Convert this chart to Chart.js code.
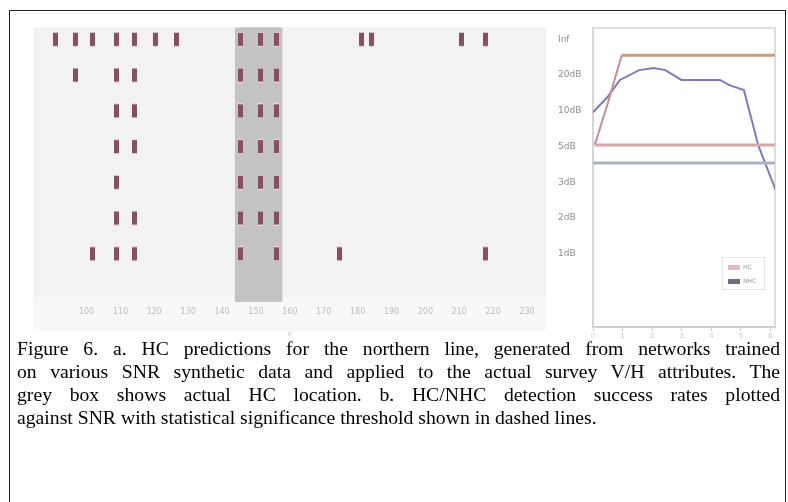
<!DOCTYPE html>
<html>
<head>
<meta charset="utf-8">
<script src="https://cdn.jsdelivr.net/npm/chart.js@4.4.0/dist/chart.umd.min.js"></script>
<style>
  html, body { margin: 0; padding: 0; background: #fff; }
  body { width: 788px; height: 502px; position: relative; overflow: hidden; }
  #frame { position: absolute; left: 9px; top: 10px; width: 777px; height: 500px;
           border: 1.5px solid #222; border-bottom: none; box-sizing: border-box; }
  #wrapA { position: absolute; left: 28px; top: 18px; width: 555px; height: 322px; }
  #wrapB { position: absolute; left: 575px; top: 18px; width: 208px; height: 325px; }
  #legend { position: absolute; left: 722px; top: 257px; width: 43px; height: 33px;
            background: #fff; border: 1px solid #e6e6e6; box-sizing: border-box;
            font: 6px "DejaVu Sans"; color: #999; }
  #legend .item { position: absolute; left: 5px; height: 8px; line-height: 8px; }
  #legend .sw { display: inline-block; width: 12px; height: 5px; vertical-align: middle; margin-right: 3px; }
  #caption { position: absolute; left: 17px; top: 337px; width: 763px;
             font-family: "Liberation Serif", serif; font-size: 19.7px; line-height: 23px; color: #000; }
  #caption .j { text-align: justify; text-align-last: justify; }
</style>
</head>
<body>
<div id="frame"></div>
<div id="wrapA"><canvas id="chart-a" width="555" height="322"></canvas></div>
<div id="wrapB"><canvas id="chart-b" width="208" height="325"></canvas></div>
<div id="legend">
  <div class="item" style="top:5px"><span class="sw" style="background:#e7b9c7"></span>HC</div>
  <div class="item" style="top:19px"><span class="sw" style="background:#786884"></span>NHC</div>
</div>
<div id="caption">
  <div class="j">Figure 6. a. HC predictions for the northern line, generated from networks trained</div>
  <div class="j">on various SNR synthetic data and applied to the actual survey V/H attributes. The</div>
  <div class="j">grey box shows actual HC location. b. HC/NHC detection success rates plotted</div>
  <div>against SNR with statistical significance threshold shown in dashed lines.</div>
</div>
<script>
/*********************** data for panel a (predictions) ***********************/

const rowLabels = ["Inf", "20dB", "10dB", "5dB", "3dB", "2dB", "1dB"];
const xTicks = [100, 110, 120, 130, 140, 150, 160, 170, 180, 190, 200, 210, 220, 230];
const hcBox = [143.8, 157.8]; // actual HC location (grey box)

// x positions of the HC predictions, one array per SNR row
const row1 = [90.9, 96.7, 101.9, 108.8, 114.3, 120.4, 126.6, 145.3, 151.4, 156.1, 181.2, 184.1, 210.7, 217.7];
const row2 = [96.7, 108.8, 114.3, 145.3, 151.4, 156.1];
const row3 = [108.8, 114.3, 145.3, 151.4, 156.1];
const row4 = [108.8, 114.3, 145.3, 151.4, 156.1];
const row5 = [108.8, 145.3, 151.4, 156.1];
const row6 = [108.8, 114.3, 145.3, 151.4, 156.1];
const row7 = [101.9, 108.8, 114.3, 145.3, 156.1, 174.8, 217.7];

/*********************** data for panel b (success rates) ***********************/

const hcSnr = [0.06, 0.49, 0.97, 6.15];
const hcRate = [67, 82, 100, 100];
const nhcSnr = [0, 0.49, 0.91, 1.56, 2.05, 2.44, 2.99, 4.29, 4.61, 5.1, 5.58, 6.17];
const nhcRate = [79, 84.6, 90.9, 94.5, 95.3, 94.5, 90.9, 90.9, 89, 87.2, 67, 50.4];
const hcThreshold = 67;
const nhcThreshold = 60.3;
const snrTicks = [0, 1, 2, 3, 4, 5, 6];

/*********************** panel a ***********************/

// tall thin marker used for every prediction
const mark = document.createElement("canvas");
mark.width = 5;
mark.height = 15;
const mctx = mark.getContext("2d");
mctx.fillStyle = "#f0d4dc";
mctx.fillRect(0, 0, 5, 15);
mctx.fillStyle = "#85505f";
mctx.fillRect(0, 1, 5, 13);

const rows = [row1, row2, row3, row4, row5, row6, row7];

const panelBack = {
  id: "panelBack",
  beforeDraw(chart) {
    const { ctx, chartArea: a } = chart;
    const xs = chart.scales.x;
    ctx.save();
    ctx.fillStyle = "#f8f8f8";
    ctx.fillRect(a.left, a.bottom, a.right - a.left, 34);
    ctx.fillStyle = "#f2f2f2";
    ctx.fillRect(a.left, a.top, a.right - a.left, a.bottom - a.top);
    const x0 = xs.getPixelForValue(hcBox[0]);
    const x1 = xs.getPixelForValue(hcBox[1]);
    ctx.fillStyle = "#c3c3c3";
    ctx.fillRect(x0, a.top, x1 - x0, a.bottom - a.top + 5);
    ctx.restore();
  },
};

const ctxA = document.getElementById("chart-a").getContext("2d");
const chartA = new Chart(ctxA, {
  type: "scatter",
  data: {
    datasets: rows.map((r, i) => ({
      label: rowLabels[i],
      data: r.map((v) => ({ x: v, y: i })),
      pointStyle: mark,
      pointRadius: 3,
    })),
  },
  options: {
    responsive: false,
    animation: false,
    events: [],
    layout: { padding: { top: 2, left: 0, right: 0, bottom: 0 } },
    plugins: { legend: { display: false }, tooltip: { enabled: false } },
    scales: {
      x: {
        type: "linear",
        min: 84.2,
        max: 235.6,
        afterBuildTicks: (s) => { s.ticks = xTicks.map((v) => ({ value: v })); },
        afterFit: (s) => { s.height = 43; },
        ticks: { color: "#bdbdbd", font: { size: 8, family: "DejaVu Sans" }, padding: 2, maxRotation: 0 },
        grid: { display: false },
        border: { display: false },
        title: { display: true, text: "x", color: "#bdbdbd", font: { size: 8 }, padding: { top: 0, bottom: 1 } },
      },
      y: {
        type: "linear",
        position: "right",
        reverse: true,
        min: -0.335,
        max: 7.21,
        afterBuildTicks: (s) => { s.ticks = rowLabels.map((l, i) => ({ value: i })); },
        afterFit: (s) => { s.width = 37; },
        ticks: {
          color: "#8f8f8f",
          font: { size: 9, family: "DejaVu Sans" },
          padding: 4,
          callback: (v) => rowLabels[v],
        },
        grid: { display: false },
        border: { display: false },
      },
    },
  },
  plugins: [panelBack],
});

/*********************** panel b ***********************/

const areaEdge = {
  id: "areaEdge",
  beforeDatasetsDraw(chart) {
    const { ctx, chartArea: a } = chart;
    ctx.save();
    ctx.strokeStyle = "#dde0d8";
    ctx.lineWidth = 2;
    ctx.beginPath();
    ctx.moveTo(a.left, a.top);
    ctx.lineTo(a.right, a.top);
    ctx.lineTo(a.right, a.bottom);
    ctx.stroke();
    ctx.restore();
  },
};

const xy = (xs, ys) => xs.map((v, i) => ({ x: v, y: ys[i] }));

const ctxB = document.getElementById("chart-b").getContext("2d");
const chartB = new Chart(ctxB, {
  type: "line",
  data: {
    datasets: [
      {
        label: "HC threshold",
        data: [{ x: hcSnr[0], y: hcThreshold }, { x: 6.15, y: hcThreshold }],
        borderColor: "#d6a6a8",
        borderWidth: 3,
        pointRadius: 0,
      },
      {
        label: "NHC threshold",
        data: [{ x: 0, y: nhcThreshold }, { x: 6.15, y: nhcThreshold }],
        borderColor: "#abb2c8",
        borderWidth: 3,
        pointRadius: 0,
      },
      {
        label: "HC",
        data: xy(hcSnr, hcRate),
        borderColor: "#c98c9c",
        borderWidth: 2,
        pointRadius: 0,
        segment: {
          borderColor: (c) => (c.p0.parsed.y === 100 && c.p1.parsed.y === 100 ? "#c89c86" : undefined),
          borderWidth: (c) => (c.p0.parsed.y === 100 && c.p1.parsed.y === 100 ? 3 : undefined),
        },
      },
      {
        label: "NHC",
        data: xy(nhcSnr, nhcRate),
        borderColor: "#7e7cb8",
        borderWidth: 2,
        pointRadius: 0,
      },
    ],
  },
  options: {
    responsive: false,
    animation: false,
    events: [],
    layout: { padding: { top: 10, left: 10, right: 8, bottom: 0 } },
    plugins: { legend: { display: false }, tooltip: { enabled: false } },
    scales: {
      x: {
        type: "linear",
        min: 0,
        max: 6.15,
        afterBuildTicks: (s) => { s.ticks = snrTicks.map((v) => ({ value: v })); },
        afterFit: (s) => { s.height = 16; },
        ticks: { color: "#c4c4c4", font: { size: 7 }, padding: 1, maxRotation: 0 },
        grid: { drawOnChartArea: false, drawTicks: true, tickLength: 4, color: "#cfcfcf" },
        border: { color: "#cfcfcf", width: 2 },
      },
      y: {
        type: "linear",
        min: 0,
        max: 110,
        ticks: { display: false },
        grid: { display: false },
        border: { color: "#d6d6d6", width: 2 },
      },
    },
  },
  plugins: [areaEdge],
});
</script>
</body>
</html>
